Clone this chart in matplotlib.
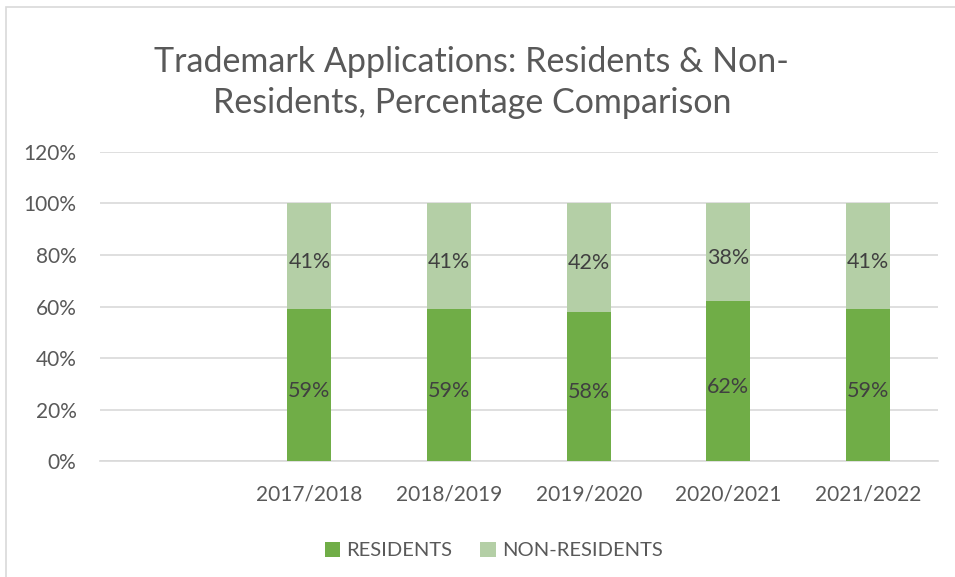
import matplotlib
matplotlib.use('Agg')
import matplotlib.pyplot as plt
from matplotlib.patches import Rectangle
import numpy as np

# data (first category slot is empty in the original)
years = ['', '2017/2018', '2018/2019', '2019/2020', '2020/2021', '2021/2022']
residents = [np.nan, 0.59, 0.59, 0.58, 0.62, 0.59]
non_residents = [np.nan, 0.41, 0.41, 0.42, 0.38, 0.41]

dark_green = '#70AD47'
light_green = '#B4CFA6'
grey_text = '#595959'

plt.rcParams['font.family'] = ['Lato', 'DejaVu Sans']

fig = plt.figure(figsize=(9.55, 5.77), dpi=100)
ax = fig.add_axes([0.1047, 0.201, 0.8773, 0.5356])

# outer chart frame
fig.patches.append(Rectangle((0.0063, -0.1), 1.2, 1.088, transform=fig.transFigure,
                             fill=False, edgecolor='#D9D9D9', linewidth=1.2))

x = np.arange(len(years))
w = 0.315
b1 = ax.bar(x, residents, w, color=dark_green, label='RESIDENTS', zorder=3)
b2 = ax.bar(x, non_residents, w, bottom=residents, color=light_green,
            label='NON-RESIDENTS', zorder=3)

for i in range(1, len(years)):
    ax.annotate('%d%%' % round(residents[i] * 100), (x[i], residents[i] / 2),
                xytext=(0, -4), textcoords='offset points',
                ha='center', va='center', fontsize=15.5, color='#404040', zorder=4)
    ax.annotate('%d%%' % round(non_residents[i] * 100),
                (x[i], residents[i] + non_residents[i] / 2),
                xytext=(0, -4), textcoords='offset points',
                ha='center', va='center', fontsize=15.5, color='#404040', zorder=4)

ax.set_xlim(-0.5, len(years) - 0.5)
ax.set_ylim(0, 1.2)
ax.set_yticks(np.arange(0, 1.21, 0.2))
ax.set_yticklabels(['%d%%' % round(v * 100) for v in np.arange(0, 1.21, 0.2)])
ax.set_xticks(x)
ax.set_xticklabels(years)
ax.tick_params(axis='both', length=0, labelsize=15, colors=grey_text)
ax.tick_params(axis='x', pad=17)
ax.tick_params(axis='y', pad=17)
ax.grid(axis='y', color='#D9D9D9', linewidth=1.2, zorder=0)
for s in ['top', 'right', 'left']:
    ax.spines[s].set_visible(False)
ax.spines['bottom'].set_color('#D9D9D9')
ax.spines['bottom'].set_linewidth(1.2)

fig.text(0.494, 0.857, 'Trademark Applications: Residents & Non-\nResidents, Percentage Comparison',
         ha='center', va='center', fontsize=24.5, color=grey_text, linespacing=1.38)

ax.legend(loc='center', bbox_to_anchor=(0.47, -0.29), ncol=2, frameon=False,
          fontsize=14.5, handlelength=0.75, handleheight=0.75, handletextpad=0.3,
          columnspacing=1.4, labelcolor=grey_text)

fig.savefig('out.png', dpi=100)
